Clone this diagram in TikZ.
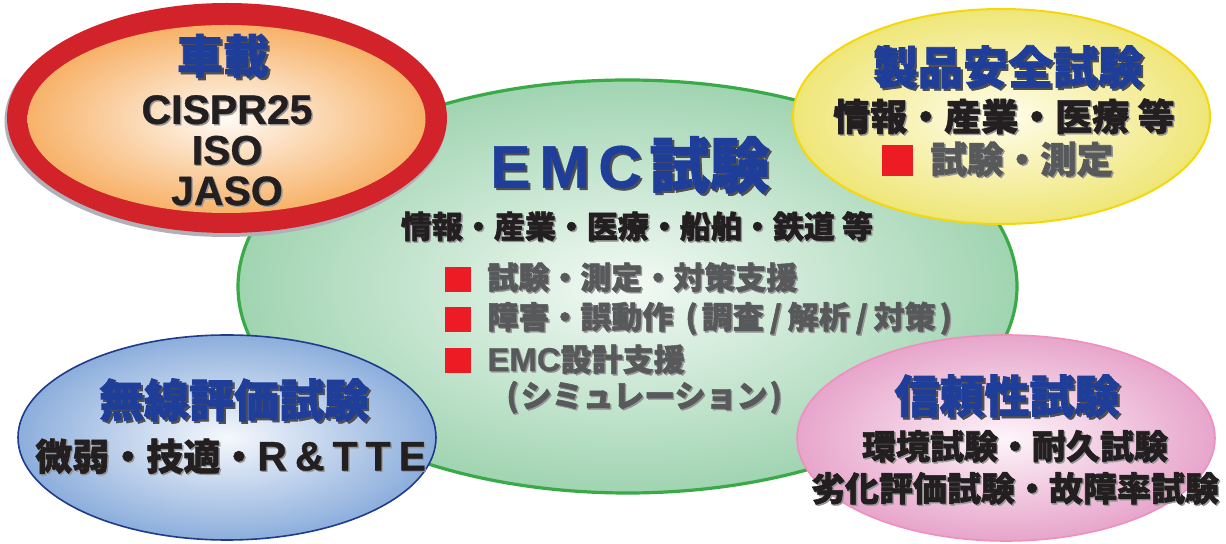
\documentclass[tikz,border=0pt]{standalone}
\usepackage{fontspec}
\setmainfont{Liberation Sans}
\newfontfamily\jp{Noto Sans CJK JP}[BoldFeatures={FakeBold=1.6}]
\newfontfamily\lat{Liberation Sans}[BoldFeatures={FakeBold=0.8}]
\definecolor{titleblue}{RGB}{31,62,153}
\definecolor{txtblack}{RGB}{35,31,32}
\definecolor{txtgrey}{RGB}{88,89,91}
\definecolor{bulred}{RGB}{237,28,36}
\definecolor{shdark}{RGB}{80,80,84}
\definecolor{shlight}{RGB}{150,150,150}
\definecolor{redband}{RGB}{210,35,42}
\definecolor{redin}{RGB}{255,250,244}
\definecolor{redout}{RGB}{247,178,105}
\definecolor{ringshadow}{RGB}{176,176,184}
\definecolor{grline}{RGB}{58,170,72}
\definecolor{grin}{RGB}{243,250,245}
\definecolor{grout}{RGB}{160,212,177}
\definecolor{yeline}{RGB}{245,216,10}
\definecolor{yein}{RGB}{255,253,235}
\definecolor{yeout}{RGB}{239,230,120}
\definecolor{blline}{RGB}{32,58,140}
\definecolor{blin}{RGB}{245,248,253}
\definecolor{blout}{RGB}{140,174,220}
\definecolor{pkline}{RGB}{240,142,190}
\definecolor{pkin}{RGB}{253,244,250}
\definecolor{pkout}{RGB}{231,165,203}
\newcommand\tsh[1]{\makebox[0pt][l]{\kern1.1pt\raisebox{-1.1pt}{\color{shdark}#1}}#1}
\newcommand\bsh[1]{\makebox[0pt][l]{\kern0.7pt\raisebox{-0.7pt}{\color{shlight}#1}}#1}
\tikzset{
  titletxt/.style={text=titleblue, inner sep=0pt, font=\jp\bfseries\fontsize{22.5}{24}\selectfont},
  bodytxt/.style={text=txtblack, inner sep=0pt, font=\jp\bfseries\fontsize{18.5}{20}\selectfont},
  greytxt/.style={text=txtgrey, inner sep=0pt, font=\jp\bfseries\fontsize{15.5}{17}\selectfont},
  bulletsq/.style={fill=bulred, draw=none, inner sep=0pt, minimum width=13pt, minimum height=12.5pt},
}
\begin{document}
\begin{tikzpicture}[x=0.5pt,y=-0.5pt]
\useasboundingbox (0,0) rectangle (1226,544);
% central green ellipse
\path[shading=radial, inner color=grin, outer color=grout] (627.5,286.5) ellipse [x radius=389.5, y radius=206.5];
\draw[grline, line width=1.6pt] (627.5,286.5) ellipse [x radius=389.5, y radius=206.5];
% red ellipse
\fill[ringshadow] (225.5,121) ellipse [x radius=221, y radius=116];
\fill[redband] (227,118) ellipse [x radius=220, y radius=115];
\path[shading=radial, inner color=redin, outer color=redout] (226.5,119) ellipse [x radius=199, y radius=94];
% yellow ellipse
\path[shading=radial, inner color=yein, outer color=yeout] (1001.5,116.5) ellipse [x radius=208.5, y radius=107.5];
\draw[yeline, line width=1pt] (1001.5,116.5) ellipse [x radius=208.5, y radius=107.5];
% blue ellipse
\path[shading=radial, inner color=blin, outer color=blout] (227,437.5) ellipse [x radius=209, y radius=102.5];
\draw[blline, line width=0.8pt] (227,437.5) ellipse [x radius=209, y radius=102.5];
% pink ellipse
\path[shading=radial, inner color=pkin, outer color=pkout] (1006,438) ellipse [x radius=209, y radius=103];
\draw[pkline, line width=0.8pt] (1006,438) ellipse [x radius=209, y radius=103];

% --- 車載
\node[titletxt, font=\jp\bfseries\fontsize{23}{24}\selectfont] (carT) at (223,57) {\tsh{車載}};
\node[bodytxt, font=\lat\bfseries\fontsize{20.5}{20.3}\selectfont, align=center] (carB) at (227,151) {\bsh{CISPR25}\\\bsh{ISO}\\\bsh{JASO}};

% --- EMC試験
\node[titletxt, font=\jp\bfseries\fontsize{30}{32}\selectfont] (emcT) at (630,166) {\tsh{{\lat E\kern4.5pt M\kern4.5pt C}\kern4pt 試験}};
\node[bodytxt, font=\jp\bfseries\fontsize{15.5}{17}\selectfont] (emcS) at (637,227) {\bsh{情報・産業・医療・船舶・鉄道 等}};
\node[bulletsq] (b1) at (458,279.5) {};
\node[bulletsq] (b2) at (458,319.5) {};
\node[bulletsq] (b3) at (458,360.5) {};
\node[greytxt, anchor=west] (i1) at (487,278) {\bsh{試験・測定・対策支援}};
\node[greytxt, anchor=west] (i2) at (487,319) {\bsh{障害・誤動作\kern6pt(\kern2pt調査\kern3pt/\kern3pt解析\kern3pt/\kern3pt対策\kern2pt)}};
\node[greytxt, anchor=west] (i3) at (487,360) {\bsh{{\lat\fontsize{16.5}{17}\selectfont EMC}設計支援}};
\node[greytxt, anchor=west] (i4) at (506,398) {\bsh{(\kern1ptシミュレーション\kern1pt)}};

% --- 製品安全試験
\node[titletxt] (prT) at (1008,68) {\tsh{製品安全試験}};
\node[bodytxt] (prS) at (1004,117) {\bsh{情報・産業・医療 等}};
\node[bulletsq, minimum width=15.5pt, minimum height=15.5pt] (b4) at (897.5,160.5) {};
\node[greytxt, font=\jp\bfseries\fontsize{18.3}{20}\selectfont, anchor=west] (prI) at (930,160) {\bsh{試験・測定}};

% --- 無線評価試験
\node[titletxt] (wlT) at (234,401) {\tsh{無線評価試験}};
\node[bodytxt, anchor=west] (wlS) at (35,457) {\bsh{微弱・技適・{\lat\fontsize{20.5}{22}\selectfont R\kern4pt\&\kern4pt T\kern4pt T\kern4pt E}}};

% --- 信頼性試験
\node[titletxt] (rlT) at (1007,397) {\tsh{信頼性試験}};
\node[bodytxt, font=\jp\bfseries\fontsize{17}{18}\selectfont] (rlS1) at (1015,447) {\bsh{環境試験・耐久試験}};
\node[bodytxt, font=\jp\bfseries\fontsize{17}{18}\selectfont] (rlS2) at (1015,489) {\bsh{劣化評価試験・故障率試験}};
\end{tikzpicture}
\end{document}
